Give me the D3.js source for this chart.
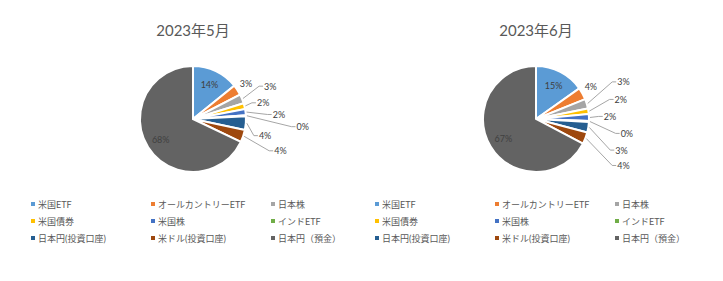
<!DOCTYPE html>
<html lang="ja">
<head>
  <meta charset="UTF-8" />
  <title>2023年5月・6月 資産構成</title>
  <script src="https://d3js.org/d3.v7.min.js"></script>
  <style>
    body {
      margin: 0;
      background: #ffffff;
      font-family: Lato, 'Noto Sans CJK JP', sans-serif;
    }
    .title { fill: #595959; font-size: 15px; }
    .label { fill: #404040; font-size: 9px; }
    .legend text { fill: #595959; font-size: 9px; }
    .leader { fill: none; stroke: #a6a6a6; stroke-width: 1; }
  </style>
</head>
<body>
  <div id="chart"></div>

  <script>
    const categories = ["米国ETF", "オールカントリーETF", "日本株", "米国債券", "米国株",
                        "インドETF", "日本円(投資口座)", "米ドル(投資口座)", "日本円（預金）"];
    const mayValues  = [14.2, 3.2, 2.8, 1.8, 1.9, 0.3, 4.1, 3.8, 67.9];
    const juneValues = [15.2, 3.7, 2.9, 1.7, 2.1, 0.3, 3.2, 3.6, 67.3];
    const titles = ["2023年5月", "2023年6月"];

    const colors = ["#5b9bd5", "#ed7d31", "#a5a5a5", "#ffc000", "#4472c4",
                    "#70ad47", "#255e91", "#9e480e", "#636363"];

    // label placement per slice: [angle in degrees, distance from center]
    // null = centroid inside the slice
    const mayLabels = [null, [56, 64], [67, 84], [77, 72], [87, 86], [94, 110], [103, 74], [110, 93], null];
    const juneLabels = [null, [59, 64], [67, 95], [77, 87], [88, 74], [99, 92], [110, 91], [118, 99], null];

    const width = 723, height = 281;
    const radius = 53;

    const svg = d3.select("#chart").append("svg")
      .attr("width", width)
      .attr("height", height);

    const color = d3.scaleOrdinal().domain(categories).range(colors);

    const pie = d3.pie().sort(null).value(d => d.value);
    const arc = d3.arc().innerRadius(0).outerRadius(radius);
    const inner = d3.arc().innerRadius(radius * 0.72).outerRadius(radius * 0.72);

    function drawPie(cx, title, values, labels, legendX) {
      const g = svg.append("g").attr("transform", `translate(${cx},119)`);

      svg.append("text")
        .attr("class", "title")
        .attr("x", cx)
        .attr("y", 36)
        .attr("text-anchor", "middle")
        .text(title);

      const data = pie(categories.map((c, i) => ({ name: c, value: values[i] })));

      g.selectAll("path.slice").data(data).enter().append("path")
        .attr("class", "slice")
        .attr("d", arc)
        .attr("fill", d => color(d.data.name))
        .attr("stroke", "#fff")
        .attr("stroke-width", 2);

      data.forEach((d, i) => {
        const txt = Math.round(d.data.value) + "%";
        const pos = labels[i];
        if (!pos) {
          const c = inner.centroid(d);
          g.append("text").attr("class", "label")
            .attr("x", c[0]).attr("y", c[1])
            .attr("text-anchor", "middle")
            .attr("dominant-baseline", "central")
            .text(txt);
          return;
        }
        const a = pos[0] * Math.PI / 180;
        const lx = Math.sin(a) * pos[1];
        const ly = -Math.cos(a) * pos[1];
        const t = g.append("text").attr("class", "label")
          .attr("x", lx).attr("y", ly)
          .attr("text-anchor", "middle")
          .attr("dominant-baseline", "central")
          .text(txt);
        if (pos[1] > 68) {
          const w = t.node().getComputedTextLength();
          const mid = (d.startAngle + d.endAngle) / 2;
          const sx = Math.sin(mid) * (radius + 1);
          const sy = -Math.cos(mid) * (radius + 1);
          const ex = lx - w / 2 - 1;
          g.append("path").attr("class", "leader")
            .attr("d", `M${sx},${sy}L${ex - 4},${ly}L${ex},${ly}`);
        }
      });

      // legend: three columns, three rows
      const leg = svg.append("g").attr("class", "legend");
      categories.forEach((c, i) => {
        const col = i % 3, row = Math.floor(i / 3);
        const x = legendX + col * 120, y = 204 + row * 17;
        leg.append("rect")
          .attr("x", x - 2).attr("y", y - 2)
          .attr("width", 4).attr("height", 4)
          .attr("fill", color(c));
        leg.append("text")
          .attr("x", x + 5).attr("y", y)
          .attr("dominant-baseline", "central")
          .text(c);
      });
    }

    drawPie(193, titles[0], mayValues, mayLabels, 33);
    drawPie(536, titles[1], juneValues, juneLabels, 377);
  </script>
</body>
</html>
